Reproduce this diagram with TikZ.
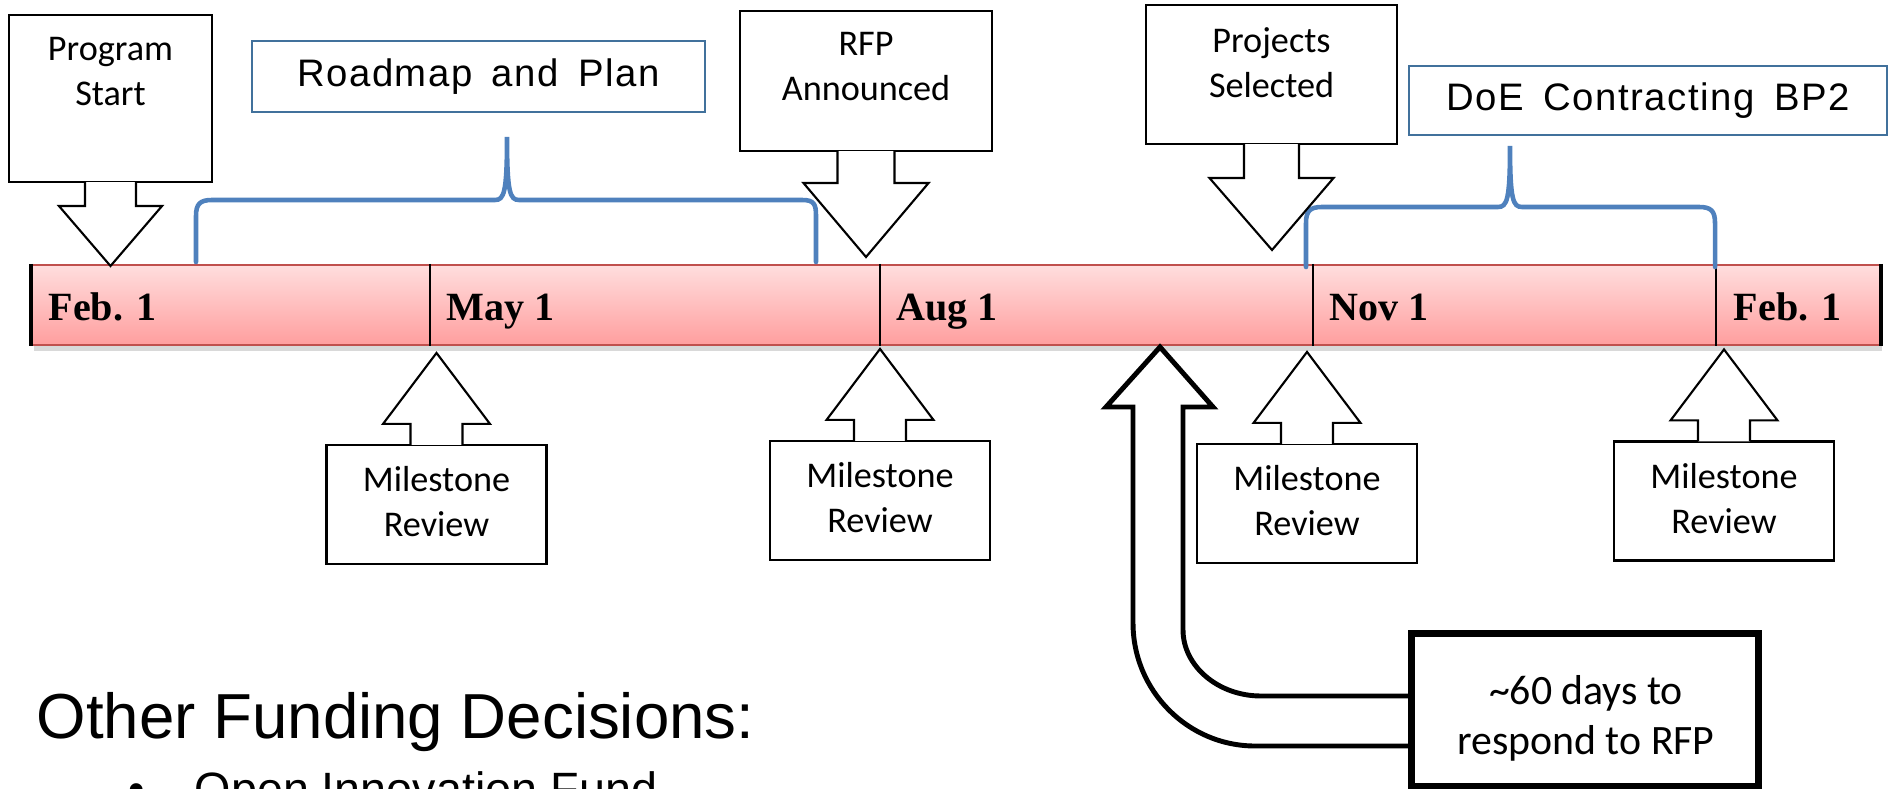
\documentclass[tikz,border=0pt]{standalone}
\usepackage{fontspec}
\setmainfont{Carlito}
\newfontfamily\datefont{Liberation Serif}
\newfontfamily\spanfont[WordSpace=1.6,LetterSpace=4]{Liberation Sans}
\newfontfamily\wordfont{Liberation Sans}
\usepackage{xcolor}
\usepackage{tikz}
\usetikzlibrary{positioning,calc,shadows}
\definecolor{barred}{HTML}{C0504D}
\definecolor{braceblue}{HTML}{4F81BD}
\definecolor{boxblue}{HTML}{41719C}

\begin{document}
\begin{tikzpicture}[
  callbox/.style={draw, line width=0.6pt, inner sep=0pt},
  calltxt/.style={font=\fontsize{10.3}{12.8}\selectfont, align=center, anchor=north, inner sep=0pt},
  callout/.style={draw, fill=white, line width=0.6pt},
  spanbox/.style={draw=boxblue, line width=0.5pt, inner sep=0pt,
                  font=\spanfont\fontsize{10.9}{13}\selectfont},
  brc/.style={draw=braceblue, line width=1.3pt, line cap=round},
  datelbl/.style={font=\datefont\bfseries\fontsize{11.4}{14}\selectfont, anchor=base west, inner sep=0pt},
  bigarr/.style={draw, fill=white, line width=1.4pt},
]
\useasboundingbox (0,0) rectangle (18.89,7.88);
\clip (0,0) rectangle (18.89,7.88);

% timeline bar
\node[draw=barred, line width=0.6pt, top color=red!13, bottom color=red!38,
      minimum width=18.48cm, minimum height=0.8cm, inner sep=0pt,
      drop shadow={shadow xshift=0.02cm, shadow yshift=-0.06cm, opacity=0.3}] (bar) at (9.56,4.83) {};
\draw[line width=1pt] (bar.north west) -- (bar.south west);
\draw[line width=1pt] (bar.north east) -- (bar.south east);
\foreach \x in {4.30,8.80,13.13,17.16}{ \draw[line width=0.6pt] (\x,0 |- bar.north) -- (\x,0 |- bar.south); }
\foreach \n/\x/\t in {feba/0.48/Feb. 1, may/4.46/May 1, aug/8.96/Aug 1, nov/13.29/Nov 1, febb/17.33/Feb. 1}{
  \node[datelbl] (\n) at (\x,4.67) {\t};
}

% spans above the bar
\node[spanbox, minimum width=4.53cm, minimum height=0.71cm] (road) at (4.785,7.115) {Roadmap and Plan};
\node[spanbox, minimum width=4.78cm, minimum height=0.69cm] (doe) at (16.48,6.875) {DoE Contracting BP2};
\draw[brc] (1.96,5.26) -- (1.96,5.72) .. controls (1.96,5.84) and (2.00,5.88) .. (2.12,5.88)
  -- (4.95,5.88) .. controls (5.04,5.88) and (5.07,5.95) .. (5.07,6.51)
  .. controls (5.07,5.95) and (5.10,5.88) .. (5.19,5.88)
  -- (8.02,5.88) .. controls (8.14,5.88) and (8.16,5.84) .. (8.16,5.72) -- (8.16,5.26);
\draw[brc] (13.06,5.21) -- (13.06,5.65) .. controls (13.06,5.77) and (13.10,5.81) .. (13.22,5.81)
  -- (14.98,5.81) .. controls (15.07,5.81) and (15.10,5.88) .. (15.10,6.42)
  .. controls (15.10,5.88) and (15.13,5.81) .. (15.22,5.81)
  -- (16.99,5.81) .. controls (17.11,5.81) and (17.15,5.77) .. (17.15,5.65) -- (17.15,5.21);

% callouts above the bar
\node[callbox, minimum width=2.03cm, minimum height=1.67cm] (start) at (1.105,6.895) {};
\node[calltxt] (start-txt) at ($(start.north)+(0,-0.23)$) {Program\\Start};
\coordinate (start-tip) at (1.105,5.22);
\filldraw[callout] ($(start.south)+(-0.255,0.01)$) -- ++(0,-0.24) -- ++(-0.26,0) -- (start-tip)
  -- ($(start.south)+(0.515,-0.23)$) -- ++(-0.26,0) -- ($(start.south)+(0.255,0.01)$);

\node[callbox, minimum width=2.52cm, minimum height=1.40cm] (rfp) at (8.66,7.07) {};
\node[calltxt] (rfp-txt) at ($(rfp.north)+(0,-0.22)$) {RFP\\Announced};
\coordinate (rfp-tip) at (8.66,5.31);
\filldraw[callout] ($(rfp.south)+(-0.285,0.01)$) -- ++(0,-0.32) -- ++(-0.34,0) -- (rfp-tip)
  -- ($(rfp.south)+(0.625,-0.31)$) -- ++(-0.34,0) -- ($(rfp.south)+(0.285,0.01)$);

\node[callbox, minimum width=2.51cm, minimum height=1.39cm] (sel) at (12.715,7.135) {};
\node[calltxt] (sel-txt) at ($(sel.north)+(0,-0.23)$) {Projects\\Selected};
\coordinate (sel-tip) at (12.72,5.38);
\filldraw[callout] ($(sel.south)+(-0.275,0.01)$) -- ++(0,-0.34) -- ++(-0.345,0) -- (sel-tip)
  -- ($(sel.south)+(0.62,-0.33)$) -- ++(-0.345,0) -- ($(sel.south)+(0.275,0.01)$);

% milestone reviews below the bar
\foreach \n/\x/\y in {m1/4.365/2.835, m2/8.80/2.875, m3/13.07/2.845, m4/17.24/2.87}{
  \node[callbox, minimum width=2.2cm, minimum height=1.19cm] (\n) at (\x,\y) {};
  \node[calltxt] (\n-txt) at ($(\n.north)+(0,-0.22)$) {Milestone\\Review};
  \coordinate (\n-tip) at ($(\n.north)+(0,0.91)$);
  \filldraw[callout] ($(\n.north)+(-0.26,-0.01)$) -- ++(0,0.21) -- ++(-0.275,0) -- (\n-tip)
    -- ($(\n.north)+(0.535,0.20)$) -- ++(-0.275,0) -- ($(\n.north)+(0.26,-0.01)$);
}

% response window
\coordinate (resp-tip) at (11.60,4.41);
\node[draw, line width=1.4pt, minimum width=3.44cm, minimum height=1.50cm, inner sep=0pt] (days) at (15.85,0.78) {};
\draw[bigarr] ($(days.west)+(0,0.14)$) -- (12.61,0.92) .. controls (12.18,0.92) and (11.83,1.22) .. (11.83,1.58)
  -- (11.83,3.81) -- (12.13,3.81) -- (resp-tip) -- (11.06,3.81) -- (11.33,3.81)
  -- (11.33,1.65) .. controls (11.33,0.97) and (11.88,0.42) .. (12.55,0.42) -- ($(days.west)+(0,-0.36)$);
\draw[line width=1.4pt] (days.north west) rectangle (days.south east);
\node[calltxt, font=\fontsize{11.9}{14.2}\selectfont] (days-txt) at (15.86,1.13) {\textasciitilde60 days to\\respond to RFP};

% other decisions
\node[font=\wordfont\fontsize{18.1}{22}\selectfont, anchor=base west, inner sep=0pt] (other) at (0.36,0.50) {Other Funding Decisions:};
\node[font=\wordfont\fontsize{13.3}{16}\selectfont, anchor=base west, inner sep=0pt] (bul) at (1.28,-0.17) {\textbullet};
\node[font=\wordfont\fontsize{13.3}{16}\selectfont, anchor=base west, inner sep=0pt] (oif) at (1.94,-0.17) {Open Innovation Fund};
\end{tikzpicture}
\end{document}
